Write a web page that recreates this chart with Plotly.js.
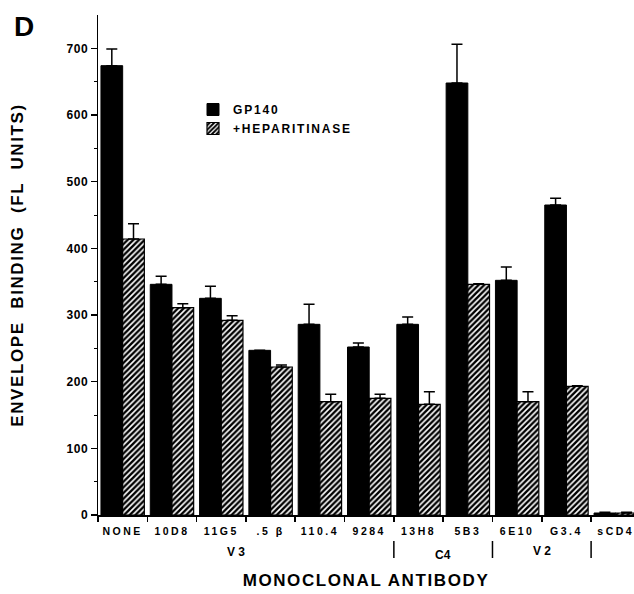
<!DOCTYPE html>
<html>
<head>
<meta charset="utf-8">
<script src="https://cdn.plot.ly/plotly-3.0.1.min.js"></script>
<style>
  html, body { margin: 0; padding: 0; background: #fff; }
  #chart { width: 634px; height: 594px; }
  .xtick text { letter-spacing: 2.5px; }
  .ytick text { letter-spacing: 0.5px; }
  text.ytitle { letter-spacing: 1.6px; }
  text.xtitle { letter-spacing: 1.6px; }
  .legendtext { letter-spacing: 1.8px; }
</style>
</head>
<body>
<div id="chart"></div>
<script>
// Data
const categories = ["NONE", "10D8", "11G5", ".5 β", "110.4", "9284", "13H8", "5B3", "6E10", "G3.4", "sCD4"];
const gp140      = [674, 346, 325, 247, 286, 252, 286, 648, 352, 465, 3];
const gp140Err   = [25, 12, 18, 0, 30, 6, 11, 58, 20, 10, 1];
const hep        = [414, 311, 292, 222, 170, 175, 166, 346, 170, 193, 3];
const hepErr     = [23, 6, 7, 3, 11, 6, 19, 1, 15, 1, 1];
const zeros      = categories.map(() => 0);

// Epitope groups below the tick labels
const groupLabels  = ["V 3", "C4", "V 2"];
const groupCenters = [2.3, 6.5, 8.5];   // category positions
const groupYpx     = [552, 555, 551];
const separators   = [5.5, 7.5, 9.5];

const fontFam = "Liberation Sans, Arial, sans-serif";
const py = px => (515 - px) / 500;   // pixel row -> paper y
const pxx = px => (px - 98) / 536;   // pixel column -> paper x

const traces = [
  {
    type: "bar", name: "GP140", x: categories, y: gp140,
    marker: { color: "#000", line: { color: "#000", width: 1 } },
    error_y: { type: "data", symmetric: false, array: gp140Err, arrayminus: zeros,
               color: "#000", thickness: 1.5, width: 5.5 }
  },
  {
    type: "bar", name: "+HEPARITINASE", x: categories, y: hep,
    marker: { color: "#fff", line: { color: "#000", width: 1.2 },
              pattern: { shape: "/", fgcolor: "#000", bgcolor: "#fff", size: 4, solidity: 0.6 } },
    error_y: { type: "data", symmetric: false, array: hepErr, arrayminus: zeros,
               color: "#000", thickness: 1.5, width: 5.5 }
  }
];

const annotations = [
  { text: "<b>D</b>", xref: "paper", yref: "paper", x: pxx(23.5), y: py(26),
    xanchor: "center", yanchor: "middle",
    showarrow: false, font: { family: fontFam, size: 28, color: "#000" } }
];
groupLabels.forEach((t, i) => {
  annotations.push({ text: "<b>" + t + "</b>", xref: "x", yref: "paper", x: groupCenters[i],
    y: py(groupYpx[i]), xanchor: "center", yanchor: "middle",
    showarrow: false, font: { family: fontFam, size: 12, color: "#000" } });
});

const shapes = separators.map(s => ({
  type: "line", xref: "x", yref: "paper", x0: s, x1: s,
  y0: py(541), y1: py(558), line: { color: "#000", width: 1.5 }
}));

const layout = {
  width: 634, height: 594,
  margin: { l: 98, r: 0, t: 15, b: 79 },
  paper_bgcolor: "#fff", plot_bgcolor: "#fff",
  barmode: "group", bargap: 0.12, bargroupgap: 0,
  showlegend: true,
  legend: { x: pxx(193), y: py(95), xanchor: "left", yanchor: "top",
            bgcolor: "rgba(0,0,0,0)", font: { family: fontFam, size: 12, color: "#000", weight: "bold" },
            tracegroupgap: 0 },
  xaxis: {
    type: "category", range: [-0.5, 10.37], showline: true, linecolor: "#000", linewidth: 1.5,
    ticks: "outside", tickson: "boundaries", ticklen: 5, tickcolor: "#000", tickwidth: 1.5,
    ticklabelstandoff: 6,
    showgrid: false, zeroline: false,
    tickfont: { family: fontFam, size: 10.5, color: "#000", weight: "bold" },
    title: { text: "<b>MONOCLONAL ANTIBODY</b>", standoff: 38,
             font: { family: fontFam, size: 17, color: "#000" } },
    automargin: false
  },
  yaxis: {
    range: [0, 750], showline: true, linecolor: "#000", linewidth: 1.5,
    ticks: "outside", ticklen: 6, tickcolor: "#000", tickwidth: 1.5,
    tickvals: [0, 100, 200, 300, 400, 500, 600, 700],
    minor: { tickvals: [50, 150, 250, 350, 450, 550, 650], ticks: "outside", ticklen: 3, tickcolor: "#000", tickwidth: 1 },
    showgrid: false, zeroline: false,
    tickfont: { family: fontFam, size: 12, color: "#000", weight: "bold" },
    title: { text: "<b>ENVELOPE  BINDING  (FL  UNITS)</b>", standoff: 38,
             font: { family: fontFam, size: 17, color: "#000" } },
    automargin: false
  },
  annotations: annotations,
  shapes: shapes
};

Plotly.newPlot("chart", traces, layout, { displayModeBar: false, staticPlot: true });
</script>
</body>
</html>
